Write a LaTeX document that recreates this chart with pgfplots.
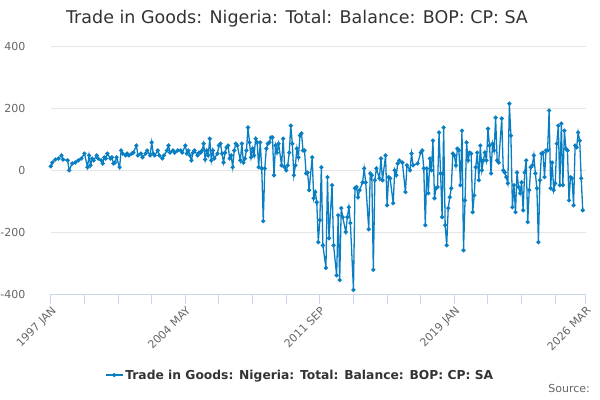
\documentclass[border=0pt]{standalone}
\usepackage{pgfplots}
\pgfplotsset{compat=1.18}
\usepackage{pgfplotstable}
\usepackage{fontspec}
\setmainfont{DejaVu Sans}
\definecolor{ceicblue}{RGB}{10,126,194}
\definecolor{gridcol}{RGB}{230,230,230}
\definecolor{axiscol}{RGB}{204,214,235}
\definecolor{labcol}{RGB}{102,102,102}
\definecolor{titlecol}{RGB}{51,51,51}
\pgfplotstableread{
m v
0 12
1 24
3 34
5 37
7 47
8 34
11 31
12 -1
14 21
16 24
18 31
20 37
22 53
24 9
25 47
26 15
27 37
28 31
30 47
31 37
33 31
34 21
35 41
36 37
37 53
39 37
40 41
41 21
42 24
43 41
45 9
46 63
47 53
49 47
50 53
51 47
53 53
54 56
56 79
57 47
59 53
60 41
62 53
63 63
65 47
66 89
67 53
68 47
70 63
71 47
73 37
74 47
76 63
77 79
78 56
80 63
81 56
83 63
85 63
86 56
88 79
89 53
90 63
91 47
92 31
93 56
94 63
96 47
97 56
98 56
99 63
100 85
101 34
102 63
103 47
104 101
105 31
106 63
107 37
109 53
110 79
111 85
112 53
113 24
114 56
115 73
116 79
117 37
118 47
119 9
120 63
121 85
122 79
124 31
125 85
126 24
127 37
128 63
129 137
130 89
131 41
132 69
133 47
134 101
135 89
136 9
137 89
138 5
139 -165
140 5
141 69
142 85
143 89
144 105
145 105
146 -17
147 79
148 56
149 85
151 15
152 101
153 9
154 -1
155 15
156 56
157 143
158 85
159 -17
160 15
161 69
162 41
163 111
164 118
165 63
166 63
167 -11
168 -8
169 -65
171 41
172 -91
173 -71
174 -104
175 -233
176 -162
177 9
178 -243
180 -316
181 -23
182 -220
184 -49
185 -243
187 -340
188 -146
189 -355
190 -123
191 -152
193 -200
194 -152
195 -120
196 -171
198 -387
199 -59
200 -55
201 -88
202 -65
204 -40
205 5
206 -40
208 -191
209 -11
210 -17
211 -322
212 -33
213 5
215 -27
216 37
217 -33
219 47
220 -114
221 -23
222 -27
224 -107
225 -1
226 -17
227 21
228 31
230 24
232 -71
233 15
235 -1
236 53
237 15
240 21
242 56
243 63
244 5
245 -178
246 5
247 -75
248 37
249 -1
250 95
251 -91
252 -59
253 -55
254 121
255 -11
256 -152
257 137
258 -178
259 -243
260 -123
261 -88
262 -59
263 53
264 47
265 15
266 69
267 63
268 -49
269 127
270 -259
271 -98
272 89
273 31
274 56
275 53
276 -136
277 -82
278 9
279 56
280 -33
281 79
282 -1
283 31
284 56
285 31
286 133
287 79
288 -11
289 85
290 63
291 169
292 31
293 24
295 166
296 -1
297 -8
298 -23
299 -43
300 214
301 111
302 -120
303 -49
304 -136
305 -8
306 -55
307 -75
308 -40
309 -130
310 -8
311 31
312 -168
313 -65
314 9
315 15
316 47
317 -11
318 -59
319 -233
320 -33
321 53
322 56
323 -23
324 63
325 63
326 192
327 -59
328 24
329 -65
330 -43
331 85
332 143
333 -49
334 150
335 -49
336 127
337 69
338 63
339 -98
340 -23
341 -27
342 -114
343 79
344 73
345 121
346 95
347 -27
348 -130
}\nigeria
\begin{document}
\begin{tikzpicture}
\path[use as bounding box] (0,0) rectangle (600bp,400bp);
\begin{axis}[
  at={(50.8bp,106bp)}, anchor=south west,
  width=535bp, height=248bp, scale only axis,
  xmin=0, xmax=350, ymin=-400, ymax=400,
  enlargelimits=false, clip=false,
  separate axis lines,
  axis x line*=bottom, axis y line*=left,
  x axis line style={draw=axiscol, line width=1bp, -},
  y axis line style={draw=none},
  xtick={0,88,176,264,350},
  xticklabels={1997 JAN,2004 MAY,2011 SEP,2019 JAN,2026 MAR},
  minor xtick={22,44,66,110,132,154,198,220,242,286,308,330},
  xtick style={draw=axiscol, line width=1bp},
  minor x tick style={draw=axiscol, line width=1bp},
  tick align=outside, major tick length=10bp, minor tick length=10bp,
  xticklabel style={rotate=45, anchor=north east, font=\fontsize{11bp}{13bp}\selectfont, text=labcol, inner sep=1bp},
  ytick={-400,-200,0,200,400},
  yticklabels={-400,-200,0,200,400},
  ytick style={draw=none},
  yticklabel style={font=\fontsize{11bp}{13bp}\selectfont, text=labcol, anchor=east, xshift=-12bp},
  ymajorgrids, grid style={draw=gridcol, line width=1bp},
  legend style={at={(0.466,-0.327)}, anchor=center, draw=none, fill=none,
    font=\bfseries\fontsize{12.3bp}{14bp}\selectfont, text=titlecol},
]
\addplot[color=ceicblue, line width=1.3bp, mark=*, mark size=1.4bp, mark options={fill=ceicblue, draw=ceicblue}] table[x=m, y=v] {\nigeria};
\addlegendentry{Trade in Goods: Nigeria: Total: Balance: BOP: CP: SA}
\end{axis}
\node[font=\fontsize{17.5bp}{21bp}\selectfont, text=titlecol] at (297bp,381.5bp) {Trade in Goods: Nigeria: Total: Balance: BOP: CP: SA};
\node[font=\fontsize{11bp}{13bp}\selectfont, text=labcol, anchor=east, inner sep=0pt] at (590bp,12bp) {Source:};
\end{tikzpicture}
\end{document}
